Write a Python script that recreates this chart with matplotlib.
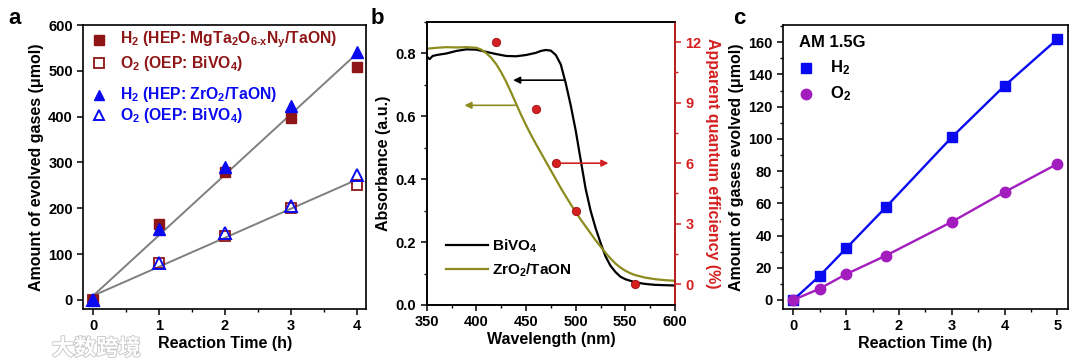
import numpy as np
import matplotlib
matplotlib.use("Agg")
import matplotlib.pyplot as plt
import matplotlib.patheffects as pe
from matplotlib.ticker import MultipleLocator

plt.rcParams.update({
    "font.family": ["Liberation Sans", "DejaVu Sans"],
    "font.weight": "bold", "axes.labelweight": "bold",
    "font.size": 10.5, "axes.linewidth": 1.2,
    "mathtext.fontset": "custom", "mathtext.default": "bf",
    "mathtext.bf": "Liberation Sans:bold", "mathtext.rm": "Liberation Sans:bold",
    "xtick.major.width": 1.1, "ytick.major.width": 1.1,
    "xtick.minor.width": 1.0, "ytick.minor.width": 1.0,
    "xtick.major.size": 4, "ytick.major.size": 4,
    "xtick.minor.size": 2.5, "ytick.minor.size": 2.5,
})
DRED, BLUE, OLIVE, RED, PURP, GRAY = "#8E1616", "#0A0AF0", "#8C8C1E", "#D42020", "#A21CBE", "#7F7F7F"
TICK, LAB = 10.5, 11.5

# ---- panel a: overall water splitting, two HEPs
t_a = [0, 1, 2, 3, 4]
h2_mg = [0, 165, 280, 397, 508]
o2_mg = [0, 80, 140, 200, 250]
h2_zr = [0, 155, 290, 423, 540]
o2_zr = [0, 80, 145, 205, 272]
fit_t = [0, 4]
fit_h2 = [9, 537]
fit_o2 = [9, 262]

# ---- panel b: absorbance spectra + AQE
wl_bv = [350, 353, 356, 360, 370, 380, 390, 400, 410, 420, 430, 440, 450, 460, 465, 470, 475,
         480, 485, 490, 495, 500, 505, 510, 515, 520, 525, 530, 535, 540, 545, 550, 560, 570,
         580, 590, 600]
ab_bv = [0.790, 0.782, 0.792, 0.795, 0.800, 0.808, 0.813, 0.812, 0.805, 0.798, 0.792, 0.791,
         0.795, 0.802, 0.808, 0.811, 0.809, 0.795, 0.765, 0.705, 0.635, 0.555, 0.462, 0.370,
         0.300, 0.245, 0.198, 0.155, 0.125, 0.105, 0.090, 0.082, 0.072, 0.067, 0.064, 0.063, 0.062]
wl_zr = [350, 360, 370, 380, 390, 400, 405, 410, 415, 420, 425, 430, 435, 440, 445, 450, 455,
         460, 465, 470, 475, 480, 485, 490, 495, 500, 505, 510, 515, 520, 525, 530, 535, 540,
         545, 550, 555, 560, 570, 580, 590, 600]
ab_zr = [0.815, 0.818, 0.820, 0.819, 0.820, 0.818, 0.812, 0.801, 0.786, 0.766, 0.740, 0.710,
         0.676, 0.640, 0.605, 0.572, 0.541, 0.512, 0.484, 0.456, 0.428, 0.400, 0.372, 0.346,
         0.320, 0.296, 0.272, 0.250, 0.228, 0.206, 0.186, 0.166, 0.148, 0.132, 0.119, 0.109,
         0.101, 0.095, 0.087, 0.082, 0.079, 0.077]
wl_aqe = [420, 460, 480, 500, 560]
aqe = [12.0, 8.7, 6.0, 3.65, 0.0]

# ---- panel c: AM 1.5G
t_c = [0, 0.5, 1, 1.75, 3, 4, 5]
h2_c = [0, 15, 32, 57.5, 101, 133, 162]
o2_c = [0, 7, 16, 27.5, 48.5, 67, 84.5]

fig = plt.figure(figsize=(10.8, 3.63), dpi=100)
axa = fig.add_axes([0.0771, 0.1488, 0.2622, 0.7823])
axb = fig.add_axes([0.3951, 0.1598, 0.2299, 0.7796])
axc = fig.add_axes([0.7247, 0.1488, 0.2642, 0.7823])

# ================= a
axa.plot(fit_t, fit_h2, color=GRAY, lw=1.4, zorder=1)
axa.plot(fit_t, fit_o2, color=GRAY, lw=1.4, zorder=1)
axa.plot(t_a, h2_mg, "s", ms=6.5, color=DRED, zorder=2)
axa.plot(t_a, o2_mg, "s", ms=6.5, mfc="none", mec=DRED, mew=1.3, zorder=2)
axa.plot(t_a, h2_zr, "^", ms=8, color=BLUE, zorder=3)
axa.plot(t_a, o2_zr, "^", ms=8, mfc="none", mec=BLUE, mew=1.4, zorder=3)
axa.set_xlim(-0.15, 4.15); axa.set_ylim(-20, 600)
axa.set_xticks(range(5)); axa.xaxis.set_minor_locator(MultipleLocator(0.5))
axa.set_yticks(range(0, 601, 100))
axa.set_xlabel("Reaction Time (h)", fontsize=LAB, labelpad=2)
axa.set_ylabel("Amount of evolved gases (μmol)", fontsize=LAB, labelpad=3)
leg_a = [("s", dict(color=DRED), r"H$_2$ (HEP: MgTa$_2$O$_{6\text{-}x}$N$_y$/TaON)", DRED, 0.947),
         ("s", dict(mfc="none", mec=DRED, mew=1.3), r"O$_2$ (OEP: BiVO$_4$)", DRED, 0.866),
         ("^", dict(color=BLUE), r"H$_2$ (HEP: ZrO$_2$/TaON)", BLUE, 0.754),
         ("^", dict(mfc="none", mec=BLUE, mew=1.4), r"O$_2$ (OEP: BiVO$_4$)", BLUE, 0.683)]
for mk, kw, lab, col, yy in leg_a:
    axa.plot([0.055], [yy], mk, ms=6.5 if mk == "s" else 7.5, transform=axa.transAxes,
             clip_on=False, **kw)
    axa.text(0.13, yy, lab, color=col, fontsize=11.3, transform=axa.transAxes, va="center")

# ================= b
axb.plot(wl_bv, ab_bv, color="black", lw=1.6, label=r"BiVO$_4$")
axb.plot(wl_zr, ab_zr, color=OLIVE, lw=1.6, label=r"ZrO$_2$/TaON")
axb.set_xlim(350, 600); axb.set_ylim(0, 0.9)
axb.set_xticks(range(350, 601, 50)); axb.xaxis.set_minor_locator(MultipleLocator(25))
axb.set_yticks([0, 0.2, 0.4, 0.6, 0.8]); axb.yaxis.set_minor_locator(MultipleLocator(0.1))
axb.set_xlabel("Wavelength (nm)", fontsize=LAB, labelpad=2)
axb.set_ylabel("Absorbance (a.u.)", fontsize=LAB, labelpad=3)
arrow = dict(arrowstyle="-|>", lw=1.2, mutation_scale=10, shrinkA=0, shrinkB=0)
axb.annotate("", xy=(437, 0.715), xytext=(489, 0.715), arrowprops=dict(arrow, color="black"))
axb.annotate("", xy=(388, 0.635), xytext=(439, 0.635), arrowprops=dict(arrow, color=OLIVE))
axb.legend(loc="lower left", bbox_to_anchor=(0.055, 0.07), frameon=False, fontsize=11,
           handlelength=2.7, handletextpad=0.3, labelspacing=0.45, borderaxespad=0)
axr = axb.twinx()
axr.plot(wl_aqe, aqe, "o", ms=6, color=RED, mec="#A01010", mew=0.6)
axr.annotate("", xy=(533, 6.0), xytext=(481, 6.0), arrowprops=dict(arrow, color=RED))
axr.set_ylim(-1.03, 13.0)
axr.set_yticks([0, 3, 6, 9, 12]); axr.yaxis.set_minor_locator(MultipleLocator(1.5))
axr.set_ylabel("Apparent quantum efficiency (%)", color=RED, fontsize=LAB,
               rotation=270, labelpad=13)
axr.tick_params(axis="y", colors=RED, which="both")
axr.spines["right"].set_color(RED)

# ================= c
axc.plot(t_c, h2_c, "-s", color=BLUE, ms=7, lw=1.7)
axc.plot(t_c, o2_c, "-o", color=PURP, ms=7.5, lw=1.7)
axc.set_xlim(-0.2, 5.2); axc.set_ylim(-5.6, 170.7)
axc.set_xticks(range(6)); axc.xaxis.set_minor_locator(MultipleLocator(0.5))
axc.set_yticks(range(0, 161, 20)); axc.yaxis.set_minor_locator(MultipleLocator(10))
axc.set_xlabel("Reaction Time (h)", fontsize=LAB, labelpad=2)
axc.set_ylabel("Amount of gases evolved (μmol)", fontsize=LAB, labelpad=3)
axc.text(0.058, 0.94, "AM 1.5G", fontsize=12, transform=axc.transAxes, va="center")
axc.plot([0.083], [0.849], "s", ms=6.5, color=BLUE, transform=axc.transAxes)
axc.text(0.165, 0.849, r"H$_2$", fontsize=12, transform=axc.transAxes, va="center")
axc.plot([0.083], [0.757], "o", ms=7.5, color=PURP, transform=axc.transAxes)
axc.text(0.165, 0.757, r"O$_2$", fontsize=12, transform=axc.transAxes, va="center")

for ax in (axa, axb, axc, axr):
    ax.tick_params(which="both", direction="out", labelsize=TICK)
for ax in (axa, axc):
    ax.tick_params(which="both", top=False, right=False)
axb.tick_params(which="both", top=False)

fig.text(0.008, 0.935, "a", fontsize=16, fontweight="bold")
fig.text(0.343, 0.935, "b", fontsize=16, fontweight="bold")
fig.text(0.679, 0.935, "c", fontsize=16, fontweight="bold")

# watermark
fig.text(0.048, 0.022, "大数跨境", fontsize=16, color="white",
         family=["Noto Sans CJK SC", "DejaVu Sans"],
         path_effects=[pe.withStroke(linewidth=1.2, foreground="#C4C4C4")])

fig.savefig("out.png", dpi=100)
